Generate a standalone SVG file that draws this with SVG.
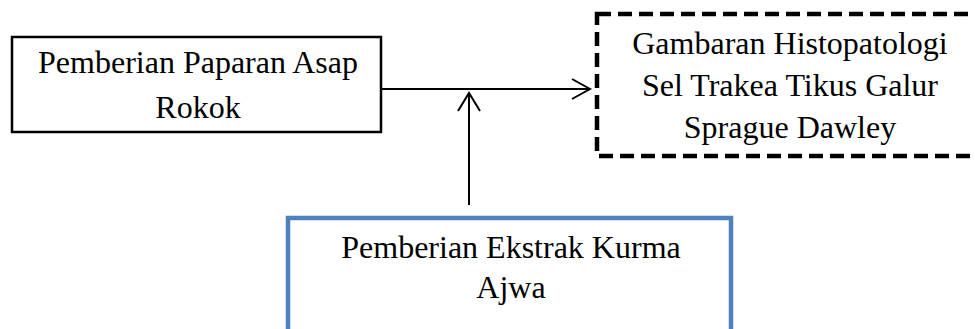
<svg xmlns="http://www.w3.org/2000/svg" width="975" height="329" viewBox="0 0 975 329">
<style>
.t{font-family:"Liberation Serif","Times New Roman",serif;font-size:32px;fill:#000;text-anchor:middle}
.ln{stroke:#000;stroke-width:2;fill:none}
</style>
<rect width="975" height="329" fill="#fff"/>
<g id="node-asap">
<rect x="12" y="37" width="369" height="95" fill="#fff" stroke="#000" stroke-width="2.5"/>
<text class="t" x="198" y="73">Pemberian Paparan Asap</text>
<text class="t" x="198" y="118">Rokok</text>
</g>
<g id="node-histo">
<rect x="597" y="14" width="420" height="142" fill="#fff" stroke="#000" stroke-width="4.5" stroke-dasharray="14 7"/>
<text class="t" x="790" y="54">Gambaran Histopatologi</text>
<text class="t" x="790" y="96">Sel Trakea Tikus Galur</text>
<text class="t" x="790" y="138">Sprague Dawley</text>
</g>
<g id="node-kurma">
<rect x="288" y="218" width="443" height="200" fill="#fff" stroke="#4F81BD" stroke-width="4.5"/>
<text class="t" x="511" y="258">Pemberian Ekstrak Kurma</text>
<text class="t" x="511" y="298">Ajwa</text>
</g>
<g id="connectors">
<line class="ln" x1="381" y1="89" x2="589" y2="89"/>
<polyline class="ln" points="572,79 590,89 572,99"/>
<line class="ln" x1="469" y1="94" x2="469" y2="205"/>
<polyline class="ln" points="458,111 469,93 480,111"/>
</g>
</svg>
